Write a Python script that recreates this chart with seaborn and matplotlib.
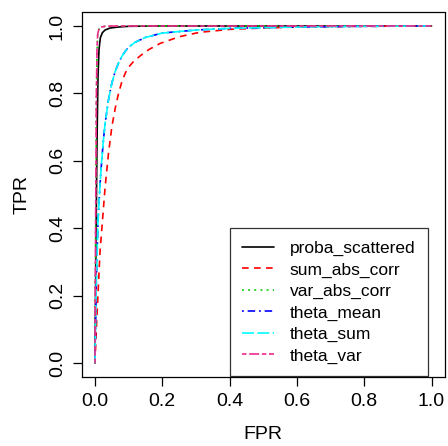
import matplotlib
matplotlib.use("Agg")
import matplotlib.pyplot as plt
import numpy as np
import pandas as pd
import seaborn as sns

# ROC curves for each score (false positive rate vs true positive rate)
series_names = ["proba_scattered", "sum_abs_corr", "var_abs_corr",
                "theta_mean", "theta_sum", "theta_var"]

fpr_proba_scattered = [0, 0.003, 0.006, 0.009, 0.012, 0.016, 0.022, 0.03, 0.045, 0.07, 0.1, 0.2, 0.5, 1.0]
tpr_proba_scattered = [0, 0.35, 0.65, 0.85, 0.93, 0.965, 0.98, 0.988, 0.994, 0.997, 0.999, 1.0, 1.0, 1.0]

fpr_sum_abs_corr = [0, 0.005, 0.015, 0.03, 0.04, 0.05, 0.06, 0.07, 0.08, 0.09, 0.1, 0.115, 0.134, 0.16, 0.193, 0.25, 0.31, 0.4, 0.5, 0.6, 0.8, 1.0]
tpr_sum_abs_corr = [0, 0.12, 0.33, 0.52, 0.62, 0.7, 0.755, 0.8, 0.835, 0.86, 0.878, 0.895, 0.911, 0.93, 0.948, 0.968, 0.981, 0.99, 0.994, 0.997, 0.999, 1.0]

fpr_var_abs_corr = [0, 0.002, 0.004, 0.006, 0.008, 0.012, 0.018, 0.03, 0.05, 1.0]
tpr_var_abs_corr = [0, 0.4, 0.75, 0.92, 0.97, 0.99, 0.996, 0.999, 1.0, 1.0]

fpr_theta_mean = [0, 0.003, 0.009, 0.015, 0.02, 0.025, 0.03, 0.04, 0.05, 0.06, 0.07, 0.08, 0.09, 0.1, 0.12, 0.15, 0.2, 0.3, 0.4, 0.6, 0.8, 1.0]
tpr_theta_mean = [0, 0.2, 0.42, 0.53, 0.6, 0.66, 0.71, 0.78, 0.83, 0.865, 0.89, 0.91, 0.925, 0.937, 0.952, 0.966, 0.979, 0.988, 0.993, 0.997, 0.999, 1.0]

fpr_theta_sum = [0, 0.003, 0.009, 0.015, 0.02, 0.025, 0.03, 0.04, 0.05, 0.06, 0.07, 0.08, 0.09, 0.1, 0.12, 0.15, 0.2, 0.3, 0.4, 0.6, 0.8, 1.0]
tpr_theta_sum = [0, 0.2, 0.42, 0.53, 0.6, 0.66, 0.71, 0.78, 0.83, 0.865, 0.89, 0.91, 0.925, 0.937, 0.952, 0.966, 0.979, 0.988, 0.993, 0.997, 0.999, 1.0]

fpr_theta_var = [0, 0.002, 0.004, 0.006, 0.008, 0.012, 0.018, 0.03, 0.05, 1.0]
tpr_theta_var = [0, 0.42, 0.77, 0.93, 0.975, 0.992, 0.997, 0.999, 1.0, 1.0]

tick_values = [0.0, 0.2, 0.4, 0.6, 0.8, 1.0]
tick_labels = ["0.0", "0.2", "0.4", "0.6", "0.8", "1.0"]

curves = {
    "proba_scattered": (fpr_proba_scattered, tpr_proba_scattered),
    "sum_abs_corr": (fpr_sum_abs_corr, tpr_sum_abs_corr),
    "var_abs_corr": (fpr_var_abs_corr, tpr_var_abs_corr),
    "theta_mean": (fpr_theta_mean, tpr_theta_mean),
    "theta_sum": (fpr_theta_sum, tpr_theta_sum),
    "theta_var": (fpr_theta_var, tpr_theta_var),
}

frames = []
for name in series_names:
    fpr, tpr = curves[name]
    frames.append(pd.DataFrame({"FPR": fpr, "TPR": tpr, "score": name}))
df = pd.concat(frames, ignore_index=True)

palette = {
    "proba_scattered": "#000000",
    "sum_abs_corr": "#FF0000",
    "var_abs_corr": "#00CD00",
    "theta_mean": "#0000FF",
    "theta_sum": "#00FFFF",
    "theta_var": "#F0288C",
}
dashes = {
    "proba_scattered": "",
    "sum_abs_corr": (4.0, 3.2),
    "var_abs_corr": (1.1, 2.6),
    "theta_mean": (1.1, 2.3, 4.5, 2.3),
    "theta_sum": (7.2, 2.0),
    "theta_var": (2.7, 1.6, 6.0, 1.6),
}

sns.set_style("ticks")
plt.rcParams["font.family"] = ["Liberation Sans", "DejaVu Sans"]

fig = plt.figure(figsize=(4.48, 4.46), dpi=100)
ax = fig.add_axes([81.5 / 448, (446 - 376.5) / 446, (445 - 81.5) / 448, (376.5 - 12.5) / 446])

sns.lineplot(data=df, x="FPR", y="TPR", hue="score", style="score",
             hue_order=series_names, style_order=series_names,
             palette=palette, dashes=dashes, estimator=None, sort=False,
             linewidth=1.2, legend=False, ax=ax)

ax.set_xlim(-0.04, 1.04)
ax.set_ylim(-0.04, 1.04)
ax.set_xticks(tick_values)
ax.set_xticklabels(tick_labels)
ax.set_yticks(tick_values)
ax.set_yticklabels(tick_labels, rotation=90, va="center")

for side in ["left", "right", "top", "bottom"]:
    ax.spines[side].set_visible(True)
    ax.spines[side].set_color("black")
    ax.spines[side].set_linewidth(0.9)

ax.tick_params(axis="both", direction="out", length=6.2, width=0.9,
               color="black", labelsize=14, labelcolor="black")
ax.tick_params(axis="x", pad=5.5)
ax.tick_params(axis="y", pad=5.0)

ax.set_xlabel("FPR", fontsize=14, labelpad=11.5, color="black")
ax.set_ylabel("TPR", fontsize=14, labelpad=13, color="black")

handles = ax.get_lines()[:len(series_names)]
leg = ax.legend(handles, series_names, loc="upper left",
                bbox_to_anchor=(0.4, 0.4), bbox_transform=ax.transData,
                borderaxespad=0, frameon=True, fancybox=False,
                edgecolor="black", fontsize=12.5, handlelength=1.85,
                handletextpad=0.9, labelspacing=0.36, borderpad=0.72)
leg.get_frame().set_linewidth(0.9)
for t in leg.get_texts():
    t.set_color("black")

fig.savefig("out.png", dpi=100)
